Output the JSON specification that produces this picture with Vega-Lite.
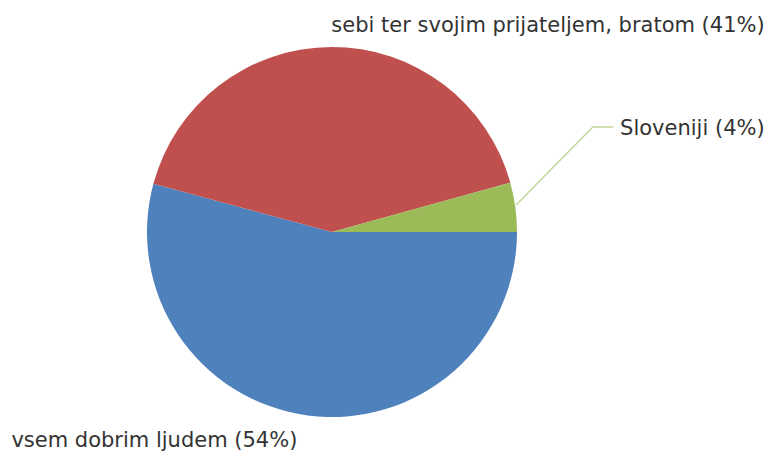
{
  "$schema": "https://vega.github.io/schema/vega-lite/v6.json",
  "autosize": "none",
  "width": 664,
  "height": 438,
  "padding": {"left": 0, "top": 13, "right": 106, "bottom": 0},
  "background": "white",
  "config": {"view": {"stroke": null}},
  "datasets": {
    "slices": [
      {"i": 1, "cat": "vsem dobrim ljudem", "label": "vsem dobrim ljudem (54%)", "value": 54.2},
      {"i": 2, "cat": "sebi ter svojim prijateljem, bratom", "label": "sebi ter svojim prijateljem, bratom (41%)", "value": 41.5},
      {"i": 3, "cat": "Sloveniji", "label": "Sloveniji (4%)", "value": 4.3}
    ],
    "leader": [
      {"k": 1, "lx": 0.995, "ly": 0.146},
      {"k": 2, "lx": 1.41, "ly": 0.568},
      {"k": 3, "lx": 1.52, "ly": 0.568}
    ]
  },
  "layer": [
    {
      "data": {"name": "slices"},
      "mark": {"type": "arc", "radius": 185},
      "encoding": {
        "theta": {"field": "value", "type": "quantitative", "stack": true, "scale": {"range": [1.5708, 7.854]}},
        "order": {"field": "i", "type": "quantitative"},
        "color": {"field": "cat", "type": "nominal", "legend": null, "sort": null,
          "scale": {"domain": ["vsem dobrim ljudem", "sebi ter svojim prijateljem, bratom", "Sloveniji"], "range": ["#4F81BD", "#C0504D", "#9BBB59"]}}
      }
    },
    {
      "data": {"name": "slices"},
      "mark": {"type": "text", "radius": 210, "align": "left", "baseline": "alphabetic", "font": "DejaVu Sans", "fontSize": 21, "color": "#333333", "dx": 0, "dy": 10},
      "encoding": {
        "theta": {"field": "value", "type": "quantitative", "stack": true},
        "order": {"field": "i", "type": "quantitative"},
        "text": {"condition": {"test": "datum.i === 2", "field": "label"}, "value": ""}
      }
    },
    {
      "data": {"name": "slices"},
      "mark": {"type": "text", "radius": 210, "align": "right", "baseline": "alphabetic", "font": "DejaVu Sans", "fontSize": 21, "color": "#333333", "dx": -7, "dy": 7},
      "encoding": {
        "theta": {"field": "value", "type": "quantitative", "stack": true},
        "order": {"field": "i", "type": "quantitative"},
        "text": {"condition": {"test": "datum.i === 1", "field": "label"}, "value": ""}
      }
    },
    {
      "data": {"name": "slices"},
      "mark": {"type": "text", "radius": 210, "align": "left", "baseline": "alphabetic", "font": "DejaVu Sans", "fontSize": 21, "color": "#333333", "dx": 80, "dy": -69},
      "encoding": {
        "theta": {"field": "value", "type": "quantitative", "stack": true},
        "order": {"field": "i", "type": "quantitative"},
        "text": {"condition": {"test": "datum.i === 3", "field": "label"}, "value": ""}
      }
    },
    {
      "data": {"name": "leader"},
      "mark": {"type": "line", "color": "#C4D79B", "strokeWidth": 1.5},
      "encoding": {
        "x": {"field": "lx", "type": "quantitative", "axis": null, "scale": {"domain": [-1.7946, 1.7946], "nice": false, "zero": false}},
        "y": {"field": "ly", "type": "quantitative", "axis": null, "scale": {"domain": [-1.1838, 1.1838], "nice": false, "zero": false}},
        "order": {"field": "k", "type": "quantitative"}
      }
    }
  ]
}
